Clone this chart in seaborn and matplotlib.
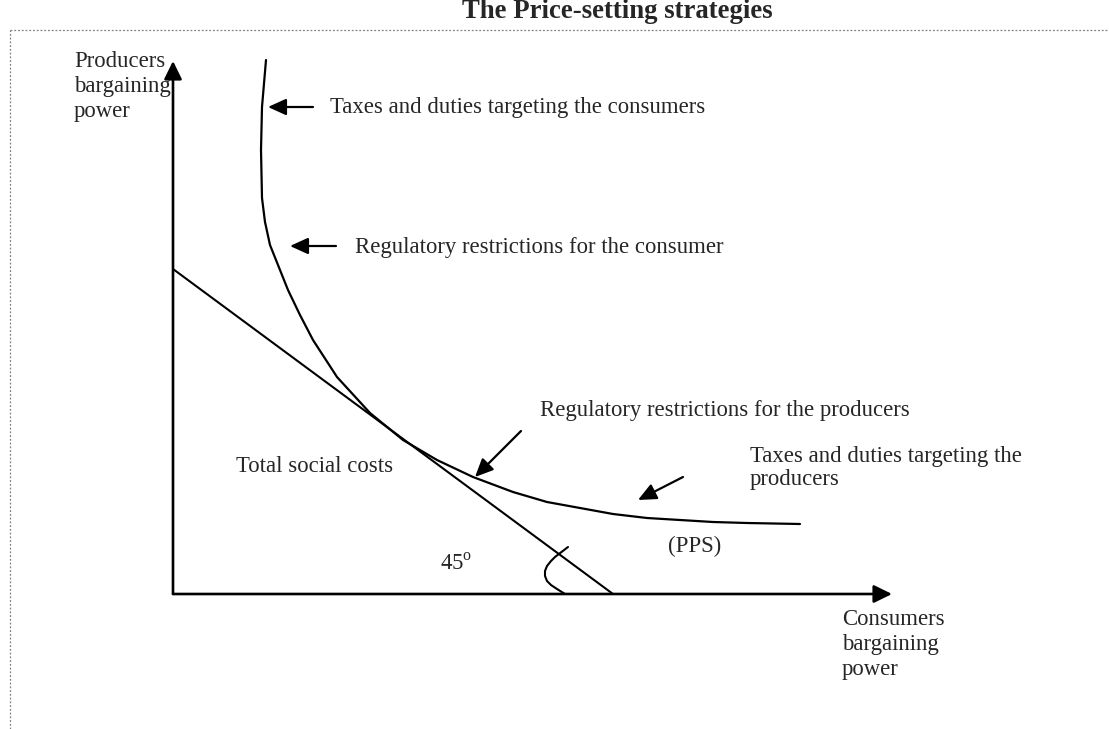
import numpy as np
import pandas as pd
import matplotlib.pyplot as plt
from matplotlib.lines import Line2D
import seaborn as sns

# Curva PPS (poder de barganha consumidores x produtores)
curva_x = [93, 89, 88, 89, 92, 97, 107, 115, 127, 140, 164, 197, 230, 264,
           300, 340, 374, 407, 440, 474, 507, 540, 574, 627]
curva_y = [534, 487, 444, 396, 372, 349, 324, 304, 279, 254, 217, 181, 154, 134,
           117, 102, 92, 86, 80, 76, 74, 72, 71, 70]

# Linha de custo social total (45 graus)
linha_x = [0, 440]
linha_y = [325, 0]

# Marca do angulo de 45 graus
angulo_x = [395, 382, 378, 374, 372, 372, 374, 378, 384, 392]
angulo_y = [47, 37, 33, 28, 23, 18, 13, 9, 5, 0]

# Rotulos
titulo = 'The Price-setting strategies'
eixo_y_txt = ['Producers', 'bargaining', 'power']
eixo_x_txt = ['Consumers', 'bargaining', 'power']

x0, y0 = 173, 594          # origem em pixels
W, H = 1109, 729

sns.set_style('white')
plt.rcParams['font.family'] = ['Liberation Serif', 'DejaVu Serif']
plt.rcParams['mathtext.fontset'] = 'custom'
plt.rcParams['mathtext.rm'] = 'Liberation Serif'
fs = 16.4

fig = plt.figure(figsize=(W / 100, H / 100), dpi=100)
ax = fig.add_axes([0, 0, 1, 1])
ax.set_xlim(-x0, W - x0)
ax.set_ylim(y0 - H, y0)
ax.axis('off')

df_curva = pd.DataFrame({'x': curva_x, 'y': curva_y})
df_linha = pd.DataFrame({'x': linha_x, 'y': linha_y})
df_ang = pd.DataFrame({'x': angulo_x, 'y': angulo_y})
sns.lineplot(data=df_curva, x='x', y='y', sort=False, estimator=None, color='black', lw=1.6, ax=ax)
sns.lineplot(data=df_linha, x='x', y='y', sort=False, estimator=None, color='black', lw=1.5, ax=ax)
sns.lineplot(data=df_ang, x='x', y='y', sort=False, estimator=None, color='black', lw=1.5, ax=ax)
ax.set_xlabel('')
ax.set_ylabel('')

# eixos com setas
eixo = dict(arrowstyle='-|>,head_length=0.55,head_width=0.27', color='black', lw=1.9,
            mutation_scale=20, shrinkA=0, shrinkB=0)
ax.annotate('', xy=(0, y0 - 61), xytext=(0, 0), arrowprops=eixo)
ax.annotate('', xy=(892 - x0, 0), xytext=(0, 0), arrowprops=eixo)

# setas indicadoras
seta = dict(arrowstyle='-|>,head_length=0.55,head_width=0.25', color='black', lw=1.6,
            mutation_scale=20, shrinkA=0, shrinkB=0)
setas = [((313, 107), (268, 107)), ((336, 246), (290, 246)),
         ((521, 431), (475, 477)), ((683, 477), (638, 500))]
for (tx, ty), (hx, hy) in setas:
    ax.annotate('', xy=(hx - x0, y0 - hy), xytext=(tx - x0, y0 - ty), arrowprops=seta)

def texto(px, py, s, **kw):
    ax.text(px - x0, y0 - py, s, fontsize=fs, va='baseline', ha='left', **kw)

for i, s in enumerate(eixo_y_txt):
    texto(74, 67 + 25 * i, s)
for i, s in enumerate(eixo_x_txt):
    texto(842, 625 + 25 * i, s)

texto(330, 113, 'Taxes and duties targeting the consumers')
texto(355, 253, 'Regulatory restrictions for the consumer')
texto(540, 416, 'Regulatory restrictions for the producers')
texto(750, 462, 'Taxes and duties targeting the')
texto(750, 485, 'producers')
texto(236, 472, 'Total social costs')
texto(440, 570, r'45$^\mathrm{o}$')
texto(668, 552, '(PPS)')

ax.text(617 - x0, y0 - 18, titulo, fontsize=19.3, fontweight='bold', ha='center', va='baseline')

# moldura pontilhada
fig.add_artist(Line2D([10 / W, 1], [1 - 30 / H, 1 - 30 / H], color='#808080', lw=0.9,
                      linestyle=(0, (1.5, 1.5))))
fig.add_artist(Line2D([10 / W, 10 / W], [0, 1 - 30 / H], color='#808080', lw=0.9,
                      linestyle=(0, (1.5, 1.5))))

fig.savefig('out.png', dpi=100)
